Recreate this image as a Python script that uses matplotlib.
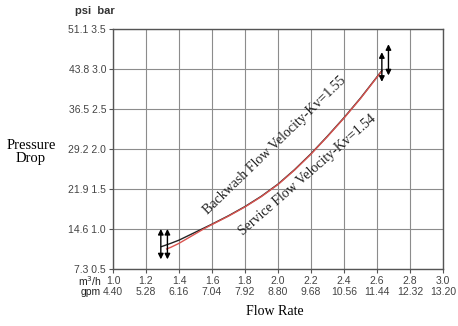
import numpy as np
import matplotlib.pyplot as plt

# axis ticks
flow_m3h = [1.0, 1.2, 1.4, 1.6, 1.8, 2.0, 2.2, 2.4, 2.6, 2.8, 3.0]
flow_gpm = ['4.40', '5.28', '6.16', '7.04', '7.92', '8.80', '9.68', '10.56', '11.44', '12.32', '13.20']
bar_ticks = [0.5, 1.0, 1.5, 2.0, 2.5, 3.0, 3.5]
psi_ticks = ['7.3', '14.6', '21.9', '29.2', '36.5', '43.8', '51.1']

# curves (flow m3/h, pressure drop bar)
backwash_q = [1.295, 1.35, 1.40, 1.45, 1.50, 1.55, 1.60, 1.70, 1.80, 1.90, 2.00,
              2.10, 2.20, 2.30, 2.40, 2.50, 2.60, 2.63]
backwash_bar = [0.78, 0.82, 0.86, 0.91, 0.96, 1.01, 1.06, 1.165, 1.28, 1.41, 1.56,
                1.74, 1.94, 2.16, 2.39, 2.635, 2.90, 2.98]
service_q = [1.325, 1.35, 1.40, 1.45, 1.50, 1.55, 1.60, 1.70, 1.80, 1.90, 2.00,
             2.10, 2.20, 2.30, 2.40, 2.50, 2.60, 2.63]
service_bar = [0.75, 0.77, 0.82, 0.88, 0.94, 1.00, 1.055, 1.16, 1.275, 1.405, 1.555,
               1.735, 1.935, 2.155, 2.385, 2.63, 2.895, 2.975]

# double arrows marking ends of curves (x, y_bottom, y_top)
arrows_x = [1.29, 1.33, 2.63, 2.67]
arrows_lo = [0.62, 0.62, 2.84, 2.92]
arrows_hi = [1.00, 1.00, 3.21, 3.31]

fig = plt.figure(figsize=(4.58, 3.26), dpi=100)
ax = fig.add_axes([0.2467, 0.175, 0.7203, 0.736])

ax.set_xlim(1.0, 3.0)
ax.set_ylim(0.5, 3.5)
ax.set_xticks(flow_m3h)
ax.set_xticklabels([f'{q:.1f}\n{g}' for q, g in zip(flow_m3h, flow_gpm)],
                   fontsize=7.5, family='Liberation Sans', color='#444444')
ax.set_yticks(bar_ticks)
ax.set_yticklabels([f'{p} {b:.1f}' for p, b in zip(psi_ticks, bar_ticks)],
                   fontsize=7.5, family='Liberation Sans', color='#444444')
ax.tick_params(length=3, width=0.8, color='#555555', pad=2)
ax.grid(True, color='#8c8c8c', linewidth=0.8)
for s in ax.spines.values():
    s.set_color('#555555')
    s.set_linewidth(1.0)

ax.plot(backwash_q, backwash_bar, color='#222222', lw=1.0)
ax.plot(service_q, service_bar, color='#d9534f', lw=1.0)

for x, lo, hi in zip(arrows_x, arrows_lo, arrows_hi):
    ax.annotate('', xy=(x, hi), xytext=(x, lo),
                arrowprops=dict(arrowstyle='<|-|>', color='black', lw=1.0,
                                mutation_scale=8, shrinkA=0, shrinkB=0))

ax.text(1.98, 2.04, 'Backwash Flow Velocity-Kv=1.55', rotation=44, fontsize=10,
        family='Liberation Serif', ha='center', va='center', color='#222222',
        rotation_mode='anchor')
ax.text(2.18, 1.675, 'Service Flow Velocity-Kv=1.54', rotation=41, fontsize=10,
        family='Liberation Serif', ha='center', va='center', color='#222222',
        rotation_mode='anchor')

fig.text(0.207, 0.958, 'psi  bar', fontsize=8, family='Liberation Sans',
         fontweight='bold', color='#333333', ha='center')
fig.text(0.223, 0.139, 'm$^3$/h', fontsize=7.5, family='Liberation Sans',
         ha='right', va='center', color='#222222')
fig.text(0.221, 0.104, 'gpm', fontsize=7.5, family='Liberation Sans',
         ha='right', va='center', color='#222222')
fig.text(0.068, 0.534, 'Pressure\nDrop', fontsize=10.5, family='Liberation Serif',
         ha='center', va='center', linespacing=1.0)
fig.text(0.6, 0.046, 'Flow Rate', fontsize=10, family='Liberation Serif',
         ha='center', va='center')

fig.savefig('out.png', dpi=100)
